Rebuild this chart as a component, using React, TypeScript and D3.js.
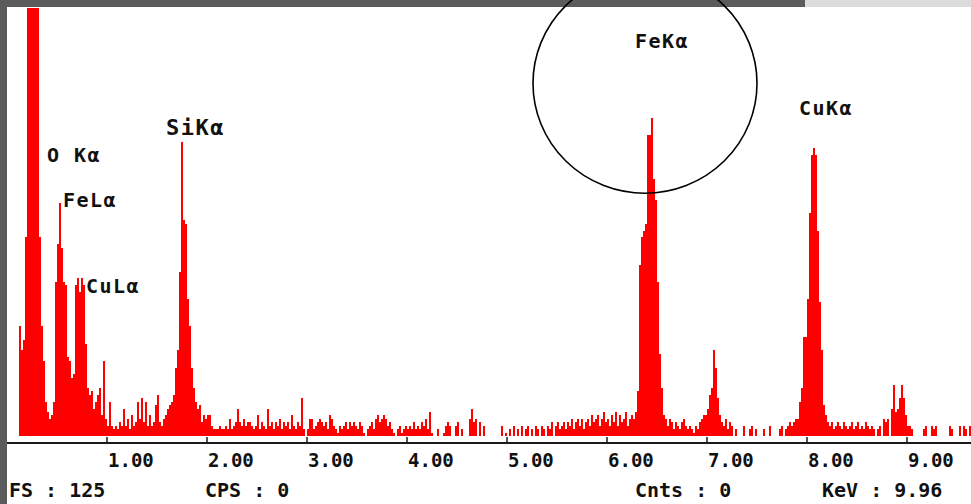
import React from 'react';
import * as d3 from 'd3';

// EDS spectrum, 20 eV per channel, one array per keV
const CHANNEL_KEV = 0.02;
const counts0 = [0,0,0,0,0,0,32,25,28,58,200,200,200,200,200,200,58,32,22,10,7,5,6,10,45,56,68,55,45,44,23,22,17,18,44,46,42,46,44,27,14,12,13,8,10,12,14,6,22,5];
const counts1 = [3,10,3,2,3,2,4,3,8,3,5,2,6,3,4,10,5,11,4,10,3,6,3,4,9,12,4,3,5,6,8,9,10,12,20,25,48,86,63,62,40,32,20,14,10,8,9,4,6,5];
const counts2 = [6,6,3,2,2,2,3,2,2,3,2,5,2,3,4,8,4,3,5,3,4,4,3,2,3,6,2,4,3,2,8,3,4,2,4,3,5,2,4,3,4,2,6,3,2,4,3,11,2,0];
const counts3 = [2,5,5,2,3,4,5,4,3,4,2,6,5,3,2,1,3,2,3,4,2,4,3,4,3,2,4,3,1,0,2,3,4,2,5,6,4,5,6,5,3,4,2,1,0,2,3,1,2,3];
const counts4 = [2,3,2,4,2,3,2,4,3,5,2,7,1,0,0,2,0,0,1,3,4,3,0,0,3,4,0,2,0,0,0,5,8,4,5,0,4,0,3,0,0,0,0,0,0,0,0,3,0,1];
const counts5 = [0,2,0,3,0,2,0,3,0,2,3,0,2,0,3,2,0,3,2,0,3,2,4,0,3,4,2,3,4,2,4,3,5,2,4,5,3,5,2,4,5,3,6,4,5,6,3,5,7,4];
const counts6 = [5,3,6,4,7,3,6,4,5,7,3,5,6,5,7,13,50,58,60,62,88,88,93,75,69,45,24,14,6,5,3,5,4,2,4,3,2,4,5,3,2,3,2,1,3,2,4,5,6,6];
const counts7 = [8,12,14,25,20,11,6,4,3,5,2,4,3,0,2,0,0,0,3,0,0,2,3,0,2,0,0,0,2,0,0,3,0,0,0,0,2,3,0,2,3,4,3,4,5,5,10,14,29,29];
const counts8 = [40,65,82,84,82,60,39,25,9,6,4,3,4,2,3,4,3,2,4,3,2,3,4,2,3,4,2,3,2,4,3,2,3,2,0,2,3,0,5,4,5,0,8,15,7,8,11,15,11,6];
const counts9 = [3,3,2,0,0,0,0,0,2,3,0,0,3,2,3,0,0,0,0,0,0,3,2,0,0,0,3,0,3,2,0,3];

const tickKeV = [1, 2, 3, 4, 5, 6, 7, 8, 9];
const tickLabels = ['1.00', '2.00', '3.00', '4.00', '5.00', '6.00', '7.00', '8.00', '9.00'];

const peakNames = ['O Kα', 'FeLα', 'CuLα', 'SiKα', 'FeKα', 'CuKα'];
const peakLabelKeV = [0.40, 0.56, 0.79, 1.59, 6.28, 7.92];
const peakLabelCounts = [80, 66.9, 41.8, 87.9, 113.3, 93.7];

const footerLabels = ['FS : 125', 'CPS : 0', 'Cnts : 0', 'KeV : 9.96'];
const footerKeV = [0.02, 1.98, 6.28, 8.15];

// marker ellipse around FeKα: centre keV, centre counts, radius keV, radius counts
const ringCenter = [6.38, 103];
const ringRadius = [1.12, 32.1];

const FONT = '"DejaVu Sans Mono", monospace';

export default function App() {
  const W = 971, H = 504;
  const counts = [...counts0, ...counts1, ...counts2, ...counts3, ...counts4,
    ...counts5, ...counts6, ...counts7, ...counts8, ...counts9];

  const x = d3.scaleLinear().domain([0, 9.64]).range([7, 971]);
  const y = d3.scaleLinear().domain([0, 125]).range([436, 8]);
  const axisY = 443;

  return (
    <svg width={W} height={H} style={{ position: 'absolute', left: 0, top: 0, background: '#fff' }}>
      <defs>
        <clipPath id="plot">
          <rect x={7} y={8} width={W - 7} height={H - 8} />
        </clipPath>
      </defs>
      <rect width={W} height={H} fill="#fff" />

      <g clipPath="url(#plot)" shapeRendering="crispEdges">
        {counts.map((c, i) => c > 0 && (
          <rect key={i}
            x={x(i * CHANNEL_KEV)}
            width={x((i + 1) * CHANNEL_KEV) - x(i * CHANNEL_KEV)}
            y={y(c)}
            height={y(0) - y(c)}
            fill="#ff0000" />
        ))}
      </g>

      {/* axis */}
      <line x1={x(0)} x2={W} y1={axisY} y2={axisY} stroke="#1a1a1a" strokeWidth={2} />
      {tickKeV.map((k, i) => (
        <g key={k}>
          <line x1={x(k)} x2={x(k)} y1={axisY} y2={axisY - 6} stroke="#1a1a1a" strokeWidth={1.5} />
          <text x={x(k) + 1} y={467} fontFamily={FONT} fontWeight="bold" fontSize={19}
            fill="#111">{tickLabels[i]}</text>
        </g>
      ))}

      {peakNames.map((n, i) => (
        <text key={n} x={x(peakLabelKeV[i])} y={y(peakLabelCounts[i])}
          fontFamily={FONT} fontWeight="bold" fontSize={i === 3 ? 22 : 20}
          letterSpacing={1.5} fill="#111">{n}</text>
      ))}

      {footerLabels.map((t, i) => (
        <text key={t} x={x(footerKeV[i])} y={497} fontFamily={FONT} fontWeight="bold"
          fontSize={20} fill="#111">{t}</text>
      ))}

      {/* frame bands */}
      <rect x={0} y={0} width={x(8.0) - 2} height={7} fill="#5b5b5b" />
      <rect x={x(8.0) - 2} y={0} width={W} height={7} fill="#dcdcdc" />
      <rect x={0} y={0} width={7} height={H} fill="#5b5b5b" />

      <ellipse cx={x(ringCenter[0])} cy={y(ringCenter[1])}
        rx={x(ringCenter[0] + ringRadius[0]) - x(ringCenter[0])}
        ry={y(0) - y(ringRadius[1])}
        fill="none" stroke="#000" strokeWidth={1.6} />
    </svg>
  );
}
